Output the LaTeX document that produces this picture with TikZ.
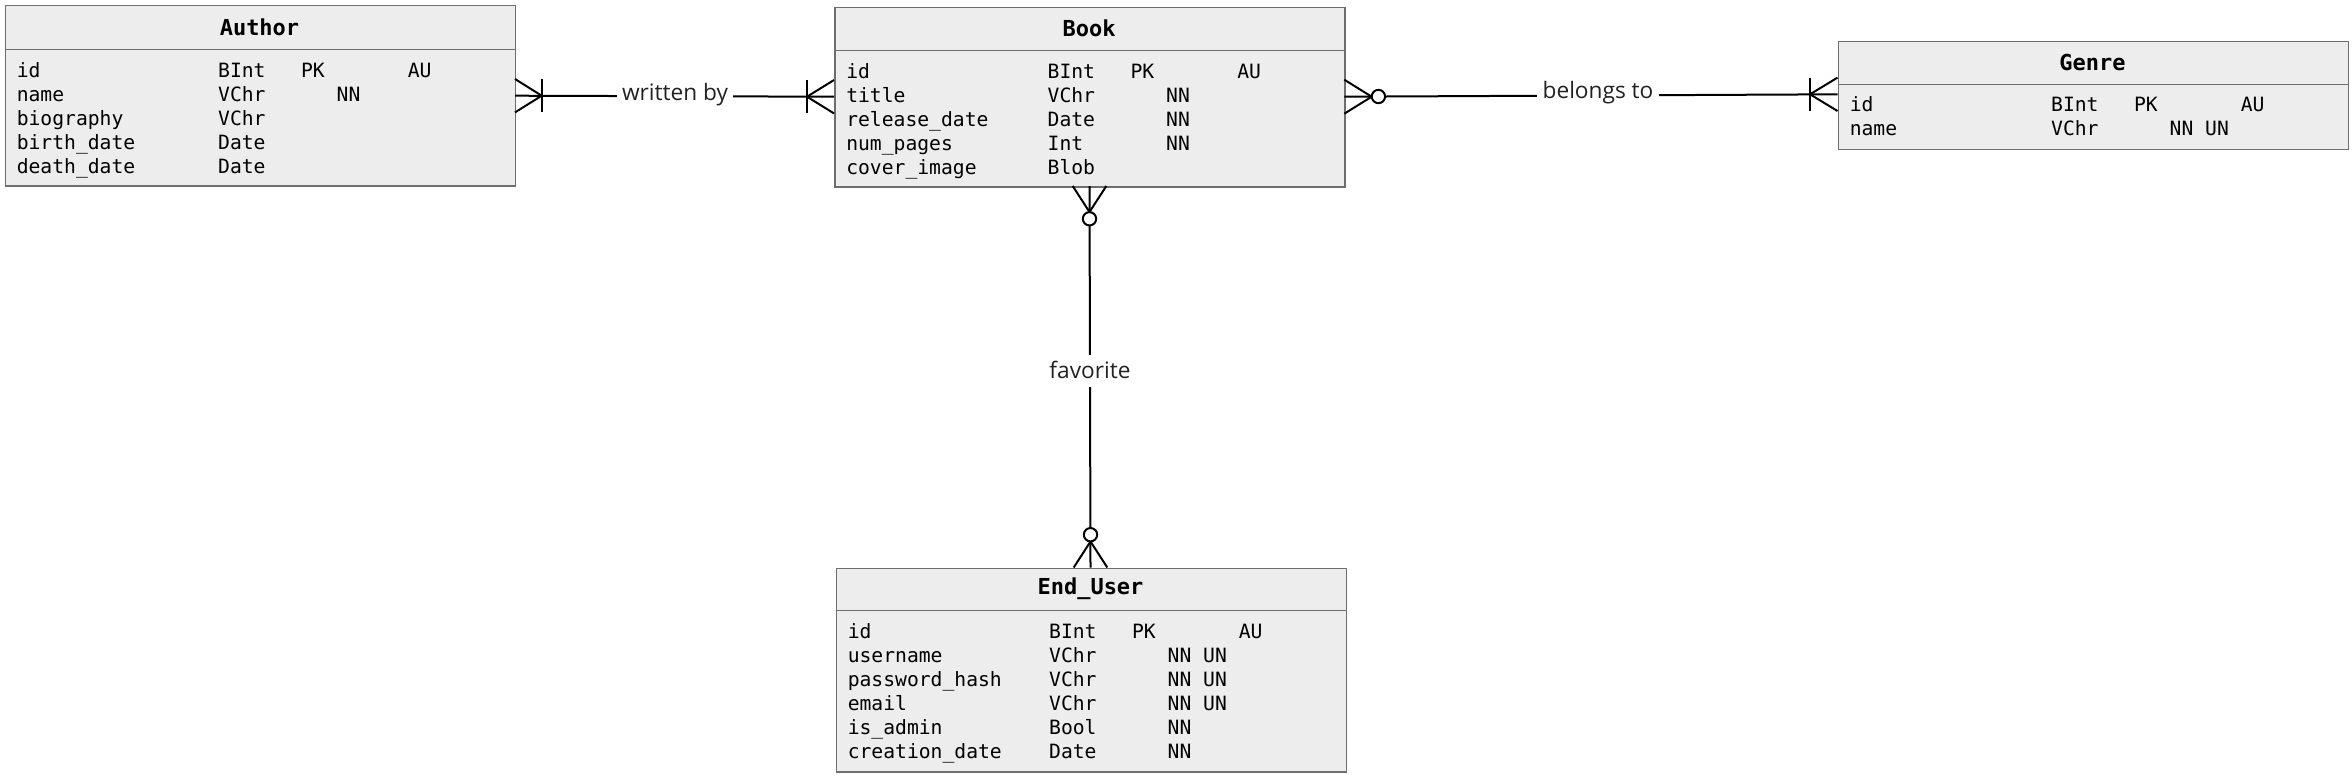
\documentclass[tikz,border=0pt]{standalone}
\usepackage{fontspec}
\setmonofont{DejaVu Sans Mono}
\newfontfamily\lblfont{Open Sans}
\definecolor{boxfill}{HTML}{EDEDED}
\definecolor{boxline}{HTML}{6E6E6E}
\definecolor{lbltext}{HTML}{222222}
\newlength\cwd \setlength\cwd{8.886pt}
\newcommand\fld[6]{\makebox[17\cwd][l]{#1}\makebox[7\cwd][l]{#2}\makebox[3\cwd][l]{#3}\makebox[3\cwd][l]{#4}\makebox[3\cwd][l]{#5}#6}
\tikzset{
  entity/.style={draw=boxline, fill=boxfill, line width=1.2pt, rectangle, inner sep=0pt, anchor=north west, minimum width=382.5pt},
  divline/.style={draw=boxline, line width=1.2pt},
  ttl/.style={font=\fontsize{16.5pt}{18pt}\selectfont\ttfamily\bfseries, inner sep=0pt},
  fldtxt/.style={font=\fontsize{14.76pt}{18pt}\selectfont\ttfamily, inner sep=0pt, anchor=base west},
  lbl/.style={font=\lblfont\fontsize{17pt}{20pt}\selectfont, text=lbltext, fill=white, inner xsep=4pt, inner ysep=2pt, text height=15pt, text depth=5pt, anchor=base},
  conn/.style={line width=1.5pt, black},
  hollow/.style={line width=1.5pt, black, fill=white}
}
\begin{document}
\begin{tikzpicture}[x=0.75pt,y=-0.75pt]
\useasboundingbox (0,0) rectangle (2352,776);

% ---------- Author ----------
\node[entity, minimum height=135.4pt] (author) at (4.5,4.5) {};
\draw[divline] (author.west |- 0,49.5) -- (author.east |- 0,49.5);
\node[ttl] (authorT) at (259.5,27) {Author};
\node[fldtxt] (a1) at (16.5,77)  {\fld{id}{BInt}{PK}{}{}{AU}};
\node[fldtxt] (a2) at (16.5,101) {\fld{name}{VChr}{}{NN}{}{}};
\node[fldtxt] (a3) at (16.5,125) {\fld{biography}{VChr}{}{}{}{}};
\node[fldtxt] (a4) at (16.5,149) {\fld{birth\_date}{Date}{}{}{}{}};
\node[fldtxt] (a5) at (16.5,173) {\fld{death\_date}{Date}{}{}{}{}};

% ---------- Book ----------
\node[entity, minimum height=134.6pt] (book) at (834,6.5) {};
\draw[divline] (book.west |- 0,50.5) -- (book.east |- 0,50.5);
\node[ttl] (bookT) at (1089,28.5) {Book};
\node[fldtxt] (b1) at (846,78)  {\fld{id}{BInt}{PK}{}{}{AU}};
\node[fldtxt] (b2) at (846,102) {\fld{title}{VChr}{}{NN}{}{}};
\node[fldtxt] (b3) at (846,126) {\fld{release\_date}{Date}{}{NN}{}{}};
\node[fldtxt] (b4) at (846,150) {\fld{num\_pages}{Int}{}{NN}{}{}};
\node[fldtxt] (b5) at (846,174) {\fld{cover\_image}{Blob}{}{}{}{}};

% ---------- Genre ----------
\node[entity, minimum height=81pt] (genre) at (1837.5,40.5) {};
\draw[divline] (genre.west |- 0,84.3) -- (genre.east |- 0,84.3);
\node[ttl] (genreT) at (2092.5,62.5) {Genre};
\node[fldtxt] (g1) at (1849.5,111.8) {\fld{id}{BInt}{PK}{}{}{AU}};
\node[fldtxt] (g2) at (1849.5,135.8) {\fld{name}{VChr}{}{NN}{UN}{}};

% ---------- End_User ----------
\node[entity, minimum height=152.6pt] (user) at (835.5,567.5) {};
\draw[divline] (user.west |- 0,610.5) -- (user.east |- 0,610.5);
\node[ttl] (userT) at (1090.5,589) {End\_User};
\node[fldtxt] (u1) at (847.5,638) {\fld{id}{BInt}{PK}{}{}{AU}};
\node[fldtxt] (u2) at (847.5,662) {\fld{username}{VChr}{}{NN}{UN}{}};
\node[fldtxt] (u3) at (847.5,686) {\fld{password\_hash}{VChr}{}{NN}{UN}{}};
\node[fldtxt] (u4) at (847.5,710) {\fld{email}{VChr}{}{NN}{UN}{}};
\node[fldtxt] (u5) at (847.5,734) {\fld{is\_admin}{Bool}{}{NN}{}{}};
\node[fldtxt] (u6) at (847.5,758) {\fld{creation\_date}{Date}{}{NN}{}{}};

% ---------- written by (Author 1..n -- 1..n Book) ----------
\coordinate (wA) at (515,95.7);
\coordinate (wB) at (834,96.7);
\coordinate (wAc) at (541.7,95.7);
\coordinate (wBc) at (807,96.7);
\draw[conn] (wA) -- (wB);
\draw[conn] (wAc) -- ++(-26.7,-16.7) (wAc) -- ++(-26.7,16.7);
\draw[conn] (wAc) ++(0,-16.7) -- ++(0,33.4);
\draw[conn] (wBc) -- ++(27,-16.7) (wBc) -- ++(27,16.7);
\draw[conn] (wBc) ++(0,-16.7) -- ++(0,33.4);
\node[lbl] (lw) at (675,100.5) {written by};

% ---------- belongs to (Book 0..n -- 1..n Genre) ----------
\coordinate (bA) at (1344.3,96.7);
\coordinate (bB) at (1837.5,94.3);
\coordinate (bAc) at (1371.7,96.7);
\coordinate (bBc) at (1810,94.3);
\draw[conn] (bA) -- (bB);
\draw[conn] (bAc) -- ++(-27.4,-17) (bAc) -- ++(-27.4,17);
\draw[hollow] (1378.4,96.5) circle[radius=5pt];
\draw[conn] (bBc) -- ++(27.5,-16.7) (bBc) -- ++(27.5,16.7);
\draw[conn] (bBc) ++(0,-16.7) -- ++(0,33.4);
\node[lbl] (lb) at (1598,98.5) {belongs to};

% ---------- favorite (Book 0..n -- 0..n End_User) ----------
\coordinate (fA) at (1089.5,186);
\coordinate (fB) at (1090.5,567.5);
\coordinate (fAc) at (1089.5,212);
\coordinate (fBc) at (1090.5,541.5);
\draw[conn] (fA) -- (fB);
\draw[conn] (fAc) -- ++(-16.8,-26) (fAc) -- ++(16.8,-26);
\draw[hollow] (1089.5,218.8) circle[radius=5pt];
\draw[conn] (fBc) -- ++(-16.8,26) (fBc) -- ++(16.8,26);
\draw[hollow] (1090.5,534.7) circle[radius=5pt];
\node[lbl] (lf) at (1090,378) {favorite};
\end{tikzpicture}
\end{document}
